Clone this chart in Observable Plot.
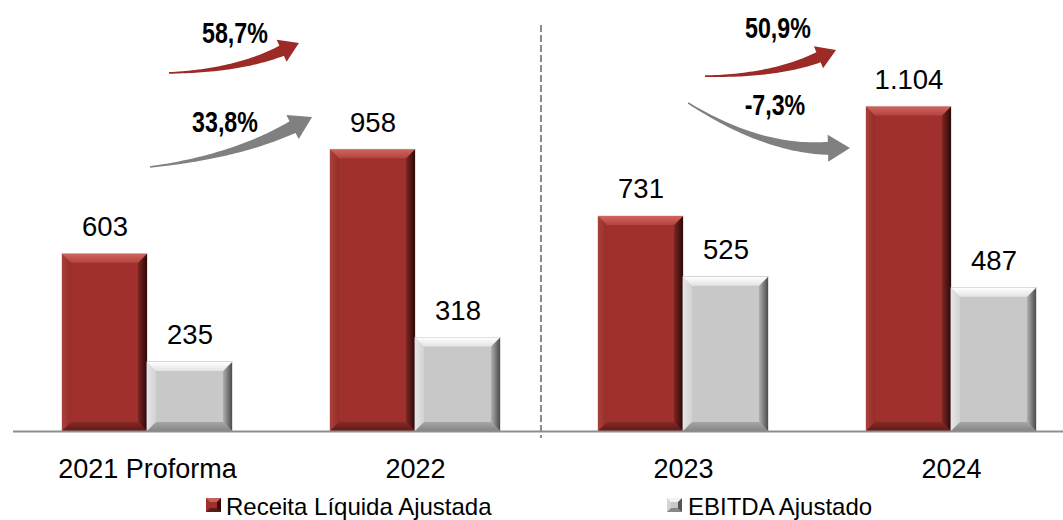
<!DOCTYPE html>
<html>
<head>
<meta charset="utf-8">
<script src="https://cdn.jsdelivr.net/npm/d3@7"></script>
<script src="https://cdn.jsdelivr.net/npm/@observablehq/plot@0.6"></script>
<style>
  html, body { margin: 0; padding: 0; background: #fff; }
  #wrap { position: relative; width: 1063px; height: 520px; font-family: "Liberation Sans", Arial, sans-serif; }
  #legend { position: absolute; left: 0; top: 482px; width: 1063px; height: 38px; }
  .sw { position: absolute; width: 7px; height: 6px; border-style: solid; border-width: 4px; top: 16px; }
  .lt { position: absolute; font-size: 24px; line-height: 28px; top: 11px; color: #000; white-space: nowrap; }
</style>
</head>
<body>
<div id="wrap"><div id="chart"></div><div id="legend"></div></div>
<script>
// ---- data ----
const groups = ["2021 Proforma", "2022", "2023", "2024"];
const receita = [603, 958, 731, 1104];
const ebitda = [235, 318, 525, 487];
const seriesNames = ["Receita Líquida Ajustada", "EBITDA Ajustado"];
const growthLabels = ["58,7%", "33,8%", "50,9%", "-7,3%"];
// growth arrows: tail/tip as [group offset from first group centre, value]
const arrowSeries = ["receita", "ebitda", "receita", "ebitda"];
const arrowTail = [[0.082, 1218], [0.011, 898], [2.082, 1207], [2.019, 1116]];
const arrowTip = [[0.567, 1320], [0.616, 1068], [2.571, 1296], [2.623, 963]];
const arrowBend = [-0.1, -0.09, -0.1, -0.15];
const labelPos = [[0.328, 1357], [0.291, 1051], [2.354, 1374], [2.343, 1112]];
// period separator: [group offset, value from, value to]
const separator = [1.47, -24, 1381];

// ---- palette / layout ----
const RED = "#A0302D", GREY = "#C8C8C8";
const xRange = [62, 1036], padIn = 0.3657;
const step = (xRange[1] - xRange[0]) / (groups.length - padIn);
const band = step * (1 - padIn);
const half = band / 2;

const fmt = d3.formatLocale({decimal: ",", thousands: ".", grouping: [3], currency: ["", ""]}).format(",d");
const data = groups.map((g, i) => ({group: g, receita: receita[i], ebitda: ebitda[i]}));

const svg = Plot.plot({
  width: 1063, height: 482,
  marginTop: 0, marginLeft: 13, marginRight: 0, marginBottom: 51,
  x: {domain: groups, range: xRange, paddingInner: padIn, paddingOuter: 0, tickSize: 0, tickPadding: 27, label: null},
  y: {domain: [0, 1466], axis: null},
  style: {fontFamily: "'Liberation Sans', Arial, sans-serif", fontSize: "27px", color: "#000", background: "#fff", overflow: "visible"},
  marks: [
    Plot.barY(data, {x: "group", y: "receita", fill: RED, stroke: "#c8c8c8", strokeWidth: 1, insetRight: half, ariaDescription: "receita-bar"}),
    Plot.barY(data, {x: "group", y: "ebitda", fill: GREY, stroke: "#c0c0c0", strokeWidth: 1, insetLeft: half, ariaDescription: "ebitda-bar"}),
    Plot.ruleY([0], {stroke: "#8e8e8e", strokeWidth: 2}),
    Plot.text(data, {x: "group", y: "receita", text: d => fmt(d.receita), dx: -half / 2, dy: -27, fontSize: 27.5, lineAnchor: "middle", fill: "#000"}),
    Plot.text(data, {x: "group", y: "ebitda", text: d => fmt(d.ebitda), dx: half / 2, dy: -27, fontSize: 27.5, lineAnchor: "middle", fill: "#000"})
  ]
});

const root = d3.select(svg);
root.selectAll('[aria-label^="x-axis"] text').style("font-size", "27px").attr("fill", "#000");

const xs = svg.scale("x"), ys = svg.scale("y");
const x0 = xs.apply(groups[0]) + xs.bandwidth / 2;
const st = xs.apply(groups[1]) - xs.apply(groups[0]);
const px = u => x0 + u * st;
const py = v => ys.apply(v);

// gradients
const defs = root.insert("defs", ":first-child");
function grad(id, x2, y2, stops) {
  const g = defs.append("linearGradient").attr("id", id).attr("x1", 0).attr("y1", 0).attr("x2", x2).attr("y2", y2);
  stops.forEach(([o, c]) => g.append("stop").attr("offset", o).attr("stop-color", c));
}
grad("rTop", 0, 1, [[0, "#d0645f"], [1, "#b3433e"]]);
grad("rRight", 1, 0, [[0, "#7e2623"], [1, "#2c0908"]]);
grad("rBot", 0, 1, [[0, "#862925"], [1, "#5e1a17"]]);
grad("rLeft", 1, 0, [[0, "#a8403b"], [1, "#972c28"]]);
grad("gTop", 0, 1, [[0, "#ffffff"], [1, "#e3e3e3"]]);
grad("gRight", 1, 0, [[0, "#b0b0b0"], [1, "#4c4c4c"]]);
grad("gBot", 0, 1, [[0, "#a6a6a6"], [1, "#858585"]]);
grad("gLeft", 1, 0, [[0, "#e6e6e6"], [1, "#d2d2d2"]]);

function barGroup(desc, idx) {
  let g = root.select(`g[aria-description="${desc}"]`);
  if (g.empty()) {
    const all = root.selectAll('g[aria-label="bar"]').nodes();
    if (all[idx]) g = d3.select(all[idx]);
  }
  return g;
}
function bevel(g, p) {
  if (!g || g.empty()) return;
  g.selectAll("rect").each(function () {
    const r = d3.select(this);
    const x = +r.attr("x"), y = +r.attr("y"), w = +r.attr("width"), h = +r.attr("height");
    const b = Math.min(9, w / 2, h / 2);
    const par = d3.select(this.parentNode);
    const poly = (pts, f) => par.append("polygon").attr("points", pts.map(q => q.join(",")).join(" ")).attr("fill", f).attr("stroke", "none");
    poly([[x, y], [x + b, y + b], [x + b, y + h - b], [x, y + h]], p.left);
    poly([[x, y + h], [x + w, y + h], [x + w - b, y + h - b], [x + b, y + h - b]], p.bot);
    poly([[x + w, y], [x + w, y + h], [x + w - b, y + h - b], [x + w - b, y + b]], p.right);
    poly([[x, y], [x + w, y], [x + w - b, y + b], [x + b, y + b]], p.top);
  });
}
bevel(barGroup("receita-bar", 0), {top: "url(#rTop)", right: "url(#rRight)", bot: "url(#rBot)", left: "url(#rLeft)"});
bevel(barGroup("ebitda-bar", 1), {top: "url(#gTop)", right: "url(#gRight)", bot: "url(#gBot)", left: "url(#gLeft)"});

// separator
root.append("line")
  .attr("x1", px(separator[0])).attr("x2", px(separator[0]))
  .attr("y1", py(separator[2])).attr("y2", py(separator[1]))
  .attr("stroke", "#8a8a8a").attr("stroke-width", 2).attr("stroke-dasharray", "7,3");

// tapered curved arrows
function arrowPath(A, T, bend, w0, w1, hl, hh) {
  const dx = T[0] - A[0], dy = T[1] - A[1], L = Math.hypot(dx, dy);
  const nx = dy / L, ny = -dx / L;
  const C = [(A[0] + T[0]) / 2 + bend * L * nx, (A[1] + T[1]) / 2 + bend * L * ny];
  let ex = T[0] - C[0], ey = T[1] - C[1];
  const el = Math.hypot(ex, ey); ex /= el; ey /= el;
  const H = [T[0] - hl * ex, T[1] - hl * ey];
  const N = 40, left = [], right = [];
  for (let i = 0; i <= N; i++) {
    const t = i / N;
    const P = [(1 - t) ** 2 * A[0] + 2 * (1 - t) * t * C[0] + t * t * H[0], (1 - t) ** 2 * A[1] + 2 * (1 - t) * t * C[1] + t * t * H[1]];
    let Dx = 2 * (1 - t) * (C[0] - A[0]) + 2 * t * (H[0] - C[0]);
    let Dy = 2 * (1 - t) * (C[1] - A[1]) + 2 * t * (H[1] - C[1]);
    const dl = Math.hypot(Dx, Dy); Dx /= dl; Dy /= dl;
    const mx = -Dy, my = Dx;
    const w = w0 + (w1 - w0) * Math.pow(t, 1.3);
    left.push([P[0] + mx * w, P[1] + my * w]);
    right.push([P[0] - mx * w, P[1] - my * w]);
  }
  const mx = -ey, my = ex;
  const pts = [...left, [H[0] + mx * hh, H[1] + my * hh], T, [H[0] - mx * hh, H[1] - my * hh], ...right.reverse()];
  return "M" + pts.map(q => q[0].toFixed(2) + "," + q[1].toFixed(2)).join("L") + "Z";
}
const ag = root.append("g").attr("aria-label", "growth-arrows");
arrowTail.forEach((tl, i) => {
  const A = [px(tl[0]), py(tl[1])], T = [px(arrowTip[i][0]), py(arrowTip[i][1])];
  const isRed = arrowSeries[i] === "receita";
  const col = isRed ? "#9c2b27" : "#808080";
  ag.append("path").attr("d", isRed ? arrowPath(A, T, arrowBend[i], 0.8, 5.5, 19, 12) : arrowPath(A, T, arrowBend[i], 0.8, 6.5, 22, 13.5)).attr("fill", col);
});
const lg = root.append("g").attr("aria-label", "growth-labels");
growthLabels.forEach((s, i) => {
  lg.append("text")
    .attr("transform", `translate(${px(labelPos[i][0])},${py(labelPos[i][1])}) scale(0.8,1)`)
    .attr("text-anchor", "middle").attr("dy", "0.36em")
    .style("font-family", "'Liberation Sans', Arial, sans-serif")
    .style("font-weight", "bold").style("font-size", "29px")
    .attr("fill", "#000").text(s);
});

document.getElementById("chart").appendChild(svg);

// legend
const legend = document.getElementById("legend");
const legendItems = [
  {name: seriesNames[0], sw: 206, tx: 226, c: ["#c9605b", "#3a0d0b", "#5e1a17", "#a0302d"], bg: RED},
  {name: seriesNames[1], sw: 667, tx: 688, c: ["#f4f4f4", "#555555", "#888888", "#d4d4d4"], bg: GREY}
];
legendItems.forEach(it => {
  const s = document.createElement("div");
  s.className = "sw";
  s.style.left = it.sw + "px";
  s.style.background = it.bg;
  s.style.borderColor = it.c.join(" ");
  legend.appendChild(s);
  const t = document.createElement("div");
  t.className = "lt";
  t.style.left = it.tx + "px";
  t.textContent = it.name;
  legend.appendChild(t);
});
</script>
</body>
</html>
